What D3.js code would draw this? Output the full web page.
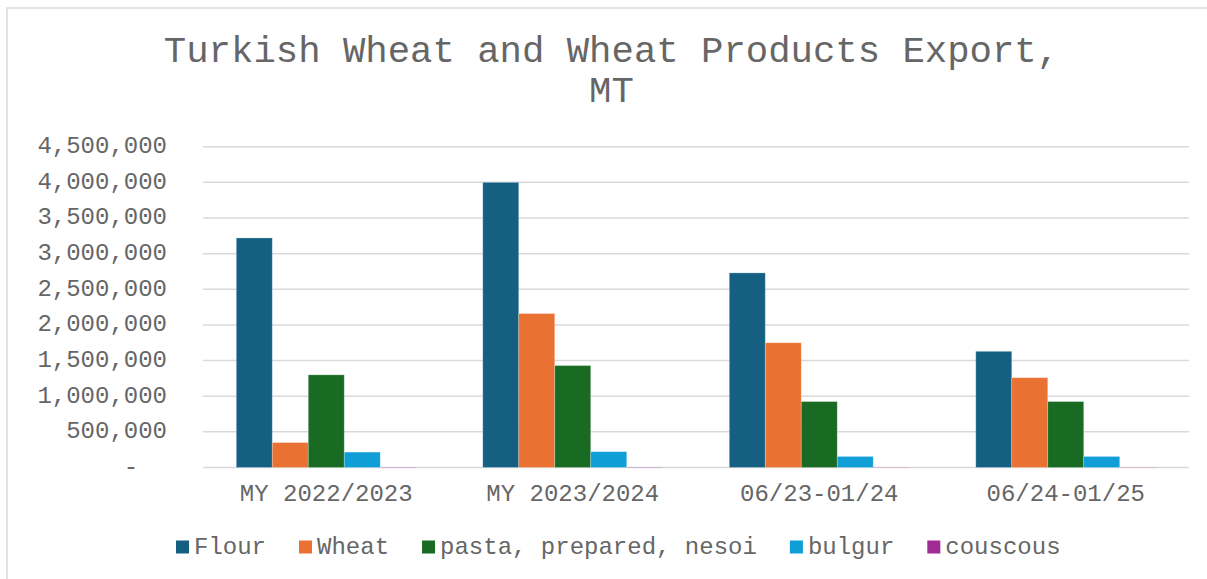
<!DOCTYPE html>
<html>
<head>
<meta charset="utf-8">
<script src="https://cdn.jsdelivr.net/npm/d3@7"></script>
<style>
  body { margin: 0; background: #fff; }
  svg { display: block; font-family: "Liberation Mono", "Courier New", monospace; }
  .grid line { stroke: #d9d9d9; stroke-width: 1.5; }
  .tick-label { fill: #666; font-size: 24px; }
</style>
</head>
<body>
<svg id="chart" width="1207" height="579"></svg>
<script>
const categories = ['MY 2022/2023', 'MY 2023/2024', '06/23-01/24', '06/24-01/25'];
const seriesNames = ['Flour', 'Wheat', 'pasta, prepared, nesoi', 'bulgur', 'couscous'];
const seriesColors = ['#156082', '#E97132', '#196B24', '#0F9ED5', '#A02B93'];

const flour = [3220000, 4000000, 2730000, 1630000];
const wheat = [350000, 2160000, 1750000, 1260000];
const pasta = [1300000, 1430000, 925000, 925000];
const bulgur = [216000, 222000, 155000, 155000];
const couscous = [5000, 5000, 4000, 4000];

const yTicks = [0, 500000, 1000000, 1500000, 2000000, 2500000, 3000000, 3500000, 4000000, 4500000];

const seriesValues = [flour, wheat, pasta, bulgur, couscous];

const svg = d3.select('#chart');

// chart area frame
svg.append('rect')
  .attr('x', 7).attr('y', 8)
  .attr('width', 1210).attr('height', 600)
  .attr('fill', '#fff')
  .attr('stroke', '#d9d9d9')
  .attr('stroke-width', 1.5);

// title
const title = svg.append('text')
  .attr('text-anchor', 'middle')
  .attr('fill', '#666')
  .style('font-size', '37.3px');
title.append('tspan').attr('x', 611.5).attr('y', 62).text('Turkish Wheat and Wheat Products Export,');
title.append('tspan').attr('x', 611.5).attr('y', 102).text('MT');

const plot = { left: 203, right: 1189, top: 146.7, bottom: 467.5 };

const y = d3.scaleLinear()
  .domain([0, 4500000])
  .range([plot.bottom, plot.top]);

const x0 = d3.scaleBand()
  .domain(categories)
  .range([plot.left, plot.right])
  .paddingInner(0.27)
  .paddingOuter(0.135);

const x1 = d3.scaleBand()
  .domain(seriesNames)
  .range([0, x0.bandwidth()]);

// gridlines
svg.append('g')
  .attr('class', 'grid')
  .selectAll('line')
  .data(yTicks)
  .join('line')
  .attr('x1', plot.left)
  .attr('x2', plot.right)
  .attr('y1', d => y(d))
  .attr('y2', d => y(d));

// y axis labels
const fmt = d3.format(',');
svg.append('g')
  .selectAll('text')
  .data(yTicks)
  .join('text')
  .attr('class', 'tick-label')
  .attr('text-anchor', 'end')
  .style('white-space', 'pre')
  .attr('x', 167)
  .attr('y', d => y(d) + 6.5)
  .text(d => d === 0 ? '-  ' : fmt(d));

// bars
const groups = svg.append('g')
  .selectAll('g')
  .data(categories)
  .join('g')
  .attr('transform', d => `translate(${x0(d)},0)`);

groups.selectAll('rect')
  .data((c, ci) => seriesNames.map((s, si) => ({ s, si, v: seriesValues[si][ci] })))
  .join('rect')
  .attr('x', d => x1(d.s))
  .attr('width', x1.bandwidth())
  .attr('y', d => y(d.v))
  .attr('height', d => y(0) - y(d.v))
  .attr('fill', d => seriesColors[d.si])
  .attr('stroke', '#fff')
  .attr('stroke-opacity', 0.35)
  .attr('stroke-width', 0.75);

// x axis labels
svg.append('g')
  .selectAll('text')
  .data(categories)
  .join('text')
  .attr('class', 'tick-label')
  .attr('text-anchor', 'middle')
  .attr('x', d => x0(d) + x0.bandwidth() / 2)
  .attr('y', 501)
  .text(d => d);

// legend
const legend = svg.append('g').attr('transform', 'translate(176,0)');
let lx = 0;
seriesNames.forEach((name, i) => {
  const item = legend.append('g').attr('transform', `translate(${lx},0)`);
  item.append('rect')
    .attr('x', 0).attr('y', 540.5)
    .attr('width', 13).attr('height', 13)
    .attr('fill', seriesColors[i]);
  const t = item.append('text')
    .attr('class', 'tick-label')
    .attr('x', 18).attr('y', 553.5)
    .text(name);
  lx += 18 + t.node().getComputedTextLength() + 33;
});
</script>
</body>
</html>
